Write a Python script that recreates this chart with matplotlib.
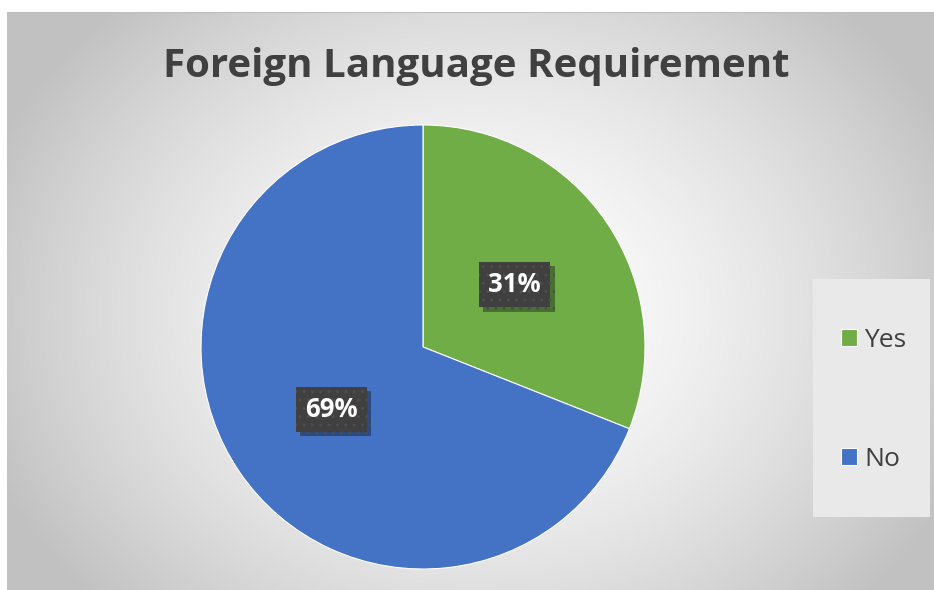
#!/usr/bin/env python3
"""Foreign language requirement pie chart."""
import matplotlib
matplotlib.use("Agg")
import matplotlib.pyplot as plt
import matplotlib.patheffects as pe
import numpy as np
from matplotlib.patches import Rectangle

labels = ["Yes", "No"]
shares = [31, 69]
colors = ["#70AD47", "#4472C4"]
title = "Foreign Language Requirement"

W, H = 934, 590
plt.rcParams["font.family"] = ["Open Sans", "DejaVu Sans"]

fig = plt.figure(figsize=(W / 100, H / 100), dpi=100)
fig.patch.set_facecolor("white")

# radial gradient background of chart area
bg = fig.add_axes([7 / W, 0, 1 - 7 / W, 1 - 12 / H])
yy, xx = np.mgrid[0:578, 0:927]
cx, cy = 470, 300
d = np.hypot((xx - cx) / 520, (yy - cy) / 420)
d = np.clip(d, 0, 1)
shade = 1.0 - 0.24 * d ** 1.6
bg.imshow(np.dstack([shade] * 3), aspect="auto", extent=(0, 1, 0, 1), origin="upper")
bg.set_axis_off()
bg.plot([0, 1], [1, 1], color="#bdbdbd", lw=1.5, transform=bg.transAxes)

fig.text(476 / W, 1 - 66 / H, title, ha="center", va="center",
         fontsize=29, fontweight="bold", color="#404040")

r = 222
ax = fig.add_axes([(423 - r) / W, (H - 347 - r) / H, 2 * r / W, 2 * r / H])
wedges, texts, autotexts = ax.pie(
    shares, colors=colors, startangle=90, counterclock=False,
    autopct="%1.0f%%", pctdistance=0.5, radius=1,
    wedgeprops=dict(edgecolor="white", linewidth=0.8),
    textprops=dict(color="white", fontsize=18.5, fontweight="bold"),
)
ax.set_xlim(-1, 1)
ax.set_ylim(-1, 1)
ax.set_aspect("equal")
ax.set_axis_off()
for t in autotexts:
    t.set_bbox(dict(boxstyle="square,pad=0.36", facecolor="#404040",
                    edgecolor="#4e4e4e", hatch="..", linewidth=0))
    t.get_bbox_patch().set_path_effects(
        [pe.withSimplePatchShadow(offset=(3, -3), shadow_rgbFace="black", alpha=0.35),
         pe.Normal()])

# legend panel
fig.patches.append(Rectangle((813 / W, (H - 517) / H), 117 / W, 238 / H,
                             transform=fig.transFigure, facecolor="#e9e9e9",
                             edgecolor="none", zorder=1))
leg = fig.legend(wedges, labels, loc="center left",
                 bbox_to_anchor=(817 / W, 1 - 400 / H), frameon=False,
                 fontsize=19, labelspacing=3.55, handlelength=0.6,
                 handleheight=0.6, handletextpad=0.3, labelcolor="#404040")

fig.savefig("out.png", dpi=100)
